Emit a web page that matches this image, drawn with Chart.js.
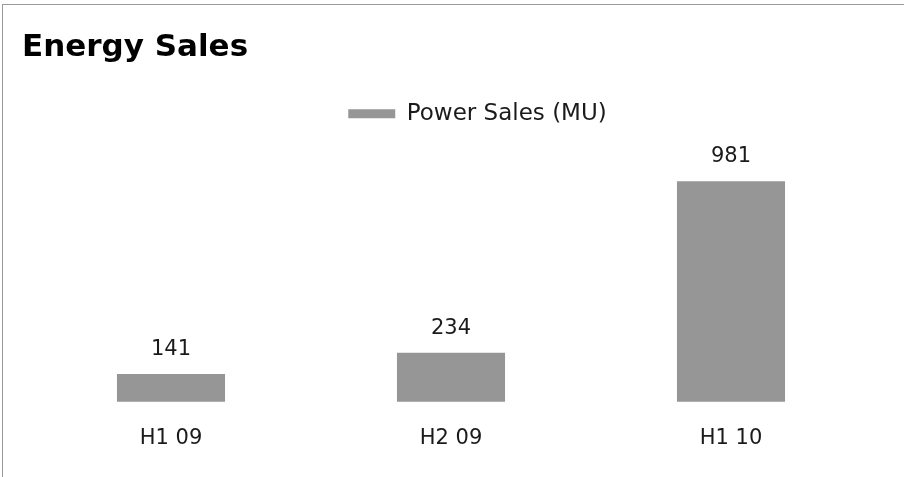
<!DOCTYPE html>
<html>
<head>
<meta charset="utf-8">
<script src="https://cdn.jsdelivr.net/npm/chart.js@4"></script>
<style>
  body { margin: 0; background: #fff; }
  #frame { position: absolute; left: 2px; top: 4px; width: 910px; height: 480px;
           border-top: 1px solid #9a9a9a; border-left: 1px solid #9a9a9a; }
  #chart { position: absolute; left: 0; top: 0; }
</style>
</head>
<body>
<div id="frame"></div>
<canvas id="chart" width="904" height="477"></canvas>
<script>
const periods = ["H1 09", "H2 09", "H1 10"];
const powerSales = [141, 234, 981];
const seriesName = "Power Sales (MU)";

const FONT = "'DejaVu Sans', Verdana, sans-serif";

// value labels above each bar
const valueLabels = {
  id: 'valueLabels',
  afterDatasetsDraw(chart){
    const ctx = chart.ctx;
    ctx.save();
    ctx.font = "21px " + FONT;
    ctx.fillStyle = "#1a1a1a";
    ctx.textAlign = "center";
    ctx.textBaseline = "bottom";
    chart.getDatasetMeta(0).data.forEach((bar, i) => {
      ctx.fillText(powerSales[i], bar.x, bar.y - 14);
    });
    ctx.restore();
  }
};

// legend sits a bit right of centre in the original
const legendShift = {
  id: 'legendShift',
  afterLayout(chart){
    chart.legend.left += 31;
    chart.legend.right += 31;
  }
};

new Chart(document.getElementById("chart"), {
  type: 'bar',
  data: {
    labels: periods,
    datasets: [{
      label: seriesName,
      data: powerSales,
      backgroundColor: '#969696',
      borderWidth: 0,
      categoryPercentage: 1,
      barPercentage: 0.386
    }]
  },
  options: {
    responsive: false,
    animation: false,
    layout: { padding: { left: 22, right: 33, top: 29, bottom: 10 } },
    plugins: {
      title: {
        display: true, text: "Energy Sales", align: 'start',
        color: '#000', font: { family: FONT, size: 31, weight: 'bold' },
        padding: { top: 0, bottom: 26 }
      },
      legend: {
        labels: {
          color: '#1a1a1a', font: { family: FONT, size: 23 },
          boxWidth: 47, boxHeight: 9
        }
      },
      tooltip: { enabled: false }
    },
    scales: {
      x: {
        grid: { display: false }, border: { display: false },
        ticks: { color: '#1a1a1a', font: { family: FONT, size: 21 }, padding: 16 }
      },
      y: {
        min: 20, max: 1181,
        grid: { display: false }, border: { display: false },
        ticks: { display: false },
        afterFit: s => { s.width = 9; }
      }
    }
  },
  plugins: [valueLabels, legendShift]
});
</script>
</body>
</html>
